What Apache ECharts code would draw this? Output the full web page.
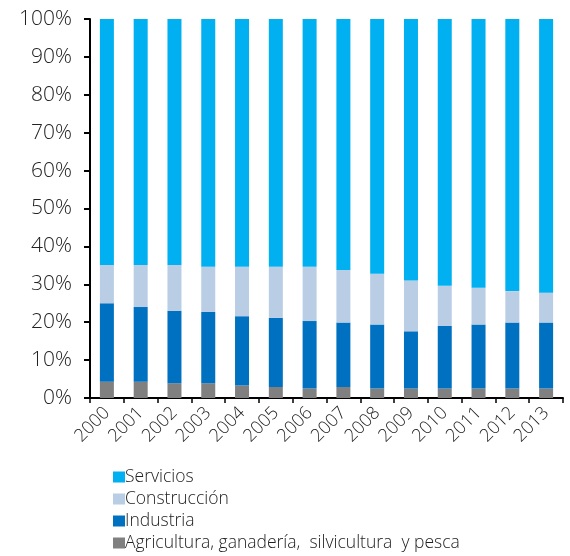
<!DOCTYPE html>
<html>
<head>
<meta charset="utf-8">
<script src="https://cdn.jsdelivr.net/npm/echarts@6/dist/echarts.min.js"></script>
<style>
  html, body { margin: 0; padding: 0; background: #fff; }
  #chart { width: 570px; height: 556px; }
</style>
</head>
<body>
<div id="chart"></div>
<script>
const years = ['2000', '2001', '2002', '2003', '2004', '2005', '2006', '2007', '2008', '2009', '2010', '2011', '2012', '2013']
const agricultura = [4.3, 4.3, 3.9, 3.9, 3.3, 2.9, 2.5, 2.9, 2.5, 2.5, 2.5, 2.5, 2.5, 2.5]
const industria = [20.7, 19.7, 19.1, 18.8, 18.3, 18.3, 17.8, 17.0, 16.9, 15.1, 16.5, 16.9, 17.4, 17.4]
const construccion = [10.1, 11.1, 12.1, 11.9, 13.0, 13.4, 14.3, 13.9, 13.4, 13.4, 10.6, 9.7, 8.3, 7.9]
const servicios = [64.9, 64.9, 64.9, 65.4, 65.4, 65.4, 65.4, 66.2, 67.2, 69.0, 70.4, 70.9, 71.8, 72.2]

const font = '"Open Sans", "Noto Sans", sans-serif'

const chart = echarts.init(document.getElementById('chart'))

const makeSeries = (name, data, color) => ({
  name: name,
  type: 'bar',
  stack: 'total',
  data: data,
  barWidth: 14,
  itemStyle: { color: color },
  emphasis: { disabled: true }
})

chart.setOption({
  animation: false,
  textStyle: { fontFamily: font },
  grid: {
    left: 90,
    right: 7,
    top: 19,
    bottom: 158
  },
  legend: {
    orient: 'vertical',
    left: 113,
    top: 468,
    padding: 0,
    itemWidth: 12,
    itemHeight: 11,
    itemGap: 4,
    icon: 'rect',
    textStyle: {
      fontSize: 17.5,
      lineHeight: 17,
      fontWeight: 300,
      color: '#222',
      fontFamily: font,
      padding: [0, 0, 0, -5]
    },
    data: ['Servicios', 'Construcción', 'Industria', 'Agricultura, ganadería,  silvicultura  y pesca']
  },
  xAxis: {
    type: 'category',
    data: years,
    axisLine: { lineStyle: { color: '#000', width: 2 } },
    axisTick: { show: true, length: 5, lineStyle: { color: '#000', width: 1.5 } },
    axisLabel: {
      rotate: 45,
      fontSize: 18,
      fontWeight: 300,
      color: '#222',
      margin: 12,
      interval: 0
    }
  },
  yAxis: {
    type: 'value',
    min: 0,
    max: 100,
    interval: 10,
    splitLine: { show: false },
    axisLine: { show: true, lineStyle: { color: '#000', width: 2 } },
    axisTick: { show: true, length: 6, lineStyle: { color: '#000', width: 2 } },
    axisLabel: {
      formatter: '{value}%',
      fontSize: 21,
      fontWeight: 300,
      color: '#222',
      margin: 18
    }
  },
  series: [
    makeSeries('Agricultura, ganadería,  silvicultura  y pesca', agricultura, '#808080'),
    makeSeries('Industria', industria, '#0070C0'),
    makeSeries('Construcción', construccion, '#B9CDE5'),
    makeSeries('Servicios', servicios, '#00B0F0')
  ]
})
</script>
</body>
</html>
